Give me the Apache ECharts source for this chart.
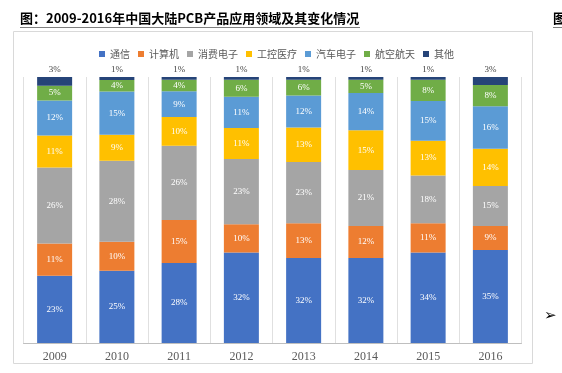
<!DOCTYPE html>
<html>
<head>
<meta charset="utf-8">
<script src="https://cdn.jsdelivr.net/npm/echarts@6/dist/echarts.min.js"></script>
<style>html,body{margin:0;padding:0;background:#fff;}#c{width:562px;height:373px;}</style>
</head>
<body>
<div id="c"></div>
<script>
var years = ['2009','2010','2011','2012','2013','2014','2015','2016'];
var seriesNames = ['通信','计算机','消费电子','工控医疗','汽车电子','航空航天','其他'];
var tongxin   = [23,25,28,32,32,32,34,35];
var jisuanji  = [11,10,15,10,13,12,11,9];
var xiaofei   = [26,28,26,23,23,21,18,15];
var gongkong  = [11,9,10,11,13,15,13,14];
var qiche     = [12,15,9,11,12,14,15,16];
var hangkong  = [5,4,4,6,6,5,8,8];
var qita      = [3,1,1,1,1,1,1,3];
var colors = ['#4472C4','#ED7D31','#A5A5A5','#FFC000','#5B9BD5','#70AD47','#264478'];

var raw = [tongxin, jisuanji, xiaofei, gongkong, qiche, hangkong, qita];
var totals = years.map(function(_, i){ var s = 0; raw.forEach(function(a){ s += a[i]; }); return s; });

var series = raw.map(function(arr, k){
  var isTop = (k === raw.length - 1);
  return {
    name: seriesNames[k],
    type: 'bar',
    stack: 'total',
    barWidth: 35,
    itemStyle: { color: colors[k] },
    label: {
      show: true,
      position: isTop ? 'top' : 'inside',
      distance: 3,
      color: isTop ? '#404040' : '#ffffff',
      fontSize: 9,
      fontFamily: 'Liberation Serif',
      formatter: function(p){ return arr[p.dataIndex] + '%'; }
    },
    data: arr.map(function(v, i){ return v / totals[i] * 100; })
  };
});

var chart = echarts.init(document.getElementById('c'), null, {renderer: 'canvas'});
chart.setOption({
  animation: false,
  grid: { left: 23.5, right: 40.5, top: 77, bottom: 30 },
  legend: {
    left: 94, top: 44,
    icon: 'rect', itemWidth: 6, itemHeight: 6, itemGap: 8,
    textStyle: { fontSize: 10, color: '#595959', fontFamily: 'Noto Sans CJK SC' },
    data: seriesNames
  },
  xAxis: {
    type: 'category',
    data: years,
    axisLine: { lineStyle: { color: '#BFBFBF' } },
    axisTick: { show: false },
    axisLabel: { fontSize: 12, color: '#595959', fontFamily: 'Liberation Serif', margin: 8 },
    splitLine: { show: true, lineStyle: { color: '#E0E0E0', width: 1 } }
  },
  yAxis: { type: 'value', min: 0, max: 100, show: false, splitLine: { show: false } },
  series: series,
  graphic: [
    { type: 'rect', shape: { x: 13.5, y: 31.5, width: 519, height: 332 }, style: { fill: 'none', stroke: '#D9D9D9', lineWidth: 1 }, z: -1 },
    { type: 'text', left: 20, top: 12, style: { text: '图：2009-2016年中国大陆PCB产品应用领域及其变化情况', font: 'bold 13px "Noto Sans CJK SC"', fill: '#000' } },
    { type: 'line', shape: { x1: 20, y1: 27.5, x2: 360, y2: 27.5 }, style: { stroke: '#7F7F7F', lineWidth: 1 } },
    { type: 'text', left: 553, top: 12, style: { text: '图', font: 'bold 13px "Noto Sans CJK SC"', fill: '#000' } },
    { type: 'line', shape: { x1: 553, y1: 27.5, x2: 562, y2: 27.5 }, style: { stroke: '#7F7F7F', lineWidth: 1 } },
    { type: 'text', left: 544, top: 309, style: { text: '➢', font: '15px "DejaVu Sans"', fill: '#000' } }
  ]
});
</script>
</body>
</html>
